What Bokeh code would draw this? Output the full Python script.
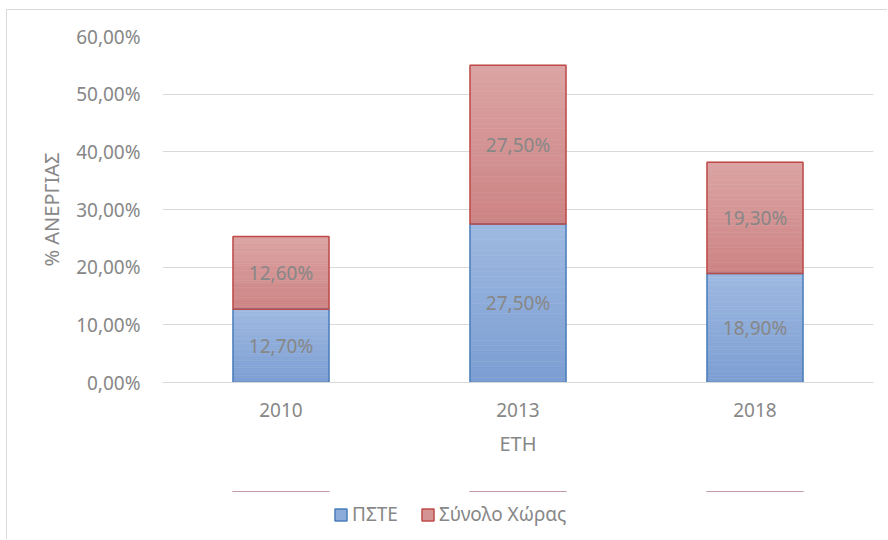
from bokeh.plotting import figure
from bokeh.layouts import column
from bokeh.models import (ColumnDataSource, FactorRange, FixedTicker, CustomJSTickFormatter,
                          Legend, LegendItem, Range1d, BoxAnnotation)
from bokeh.core.properties import value
from bokeh.embed import file_html
from bokeh.resources import INLINE

years = ["2010", "2013", "2018"]
pste = [12.70, 27.50, 18.90]
synolo = [12.60, 27.50, 19.30]
series_names = ["ΠΣΤΕ", "Σύνολο Χώρας"]
y_ticks = [0, 10, 20, 30, 40, 50, 60]

FONT = "Noto Sans"
TXT = "#878787"
BAR_W = 0.405

blue_top, blue_bot, blue_line = (0x9e, 0xb9, 0xe1), (0x7c, 0x9e, 0xd2), "#4a7ebb"
red_top, red_bot, red_line = (0xdb, 0xa4, 0xa4), (0xcd, 0x83, 0x83), "#be4b48"


def hexc(c):
    return "#%02x%02x%02x" % tuple(int(round(v)) for v in c)


def mix(a, b, t):
    return tuple(a[i] + (b[i] - a[i]) * t for i in range(3))


p = figure(frame_width=711, frame_height=346, x_range=FactorRange(*years, range_padding=0),
           y_range=Range1d(0, 60), output_backend="svg", toolbar_location=None,
           min_border_left=155, min_border_right=14, min_border_top=26, min_border_bottom=109)
p.outline_line_color = None
p.background_fill_color = "white"

bottoms = [0.0] * len(years)
tops1 = [pste[i] for i in range(len(years))]
tops2 = [pste[i] + synolo[i] for i in range(len(years))]

src1 = ColumnDataSource(dict(x=years, bottom=bottoms, top=tops1))
src2 = ColumnDataSource(dict(x=years, bottom=tops1, top=tops2))

# gradient slices derived from the data
N = 30
for lo_arr, hi_arr, cb, ct in [(bottoms, tops1, blue_bot, blue_top), (tops1, tops2, red_bot, red_top)]:
    xs, bs, ts, cs = [], [], [], []
    for i in range(len(years)):
        lo, hi = lo_arr[i], hi_arr[i]
        for k in range(N):
            xs.append(years[i])
            bs.append(lo + (hi - lo) * k / N)
            ts.append(lo + (hi - lo) * (k + 1) / N)
            cs.append(hexc(mix(cb, ct, (k + 0.5) / N)))
    p.vbar(x=xs, bottom=bs, top=ts, width=BAR_W, fill_color=cs, line_color=cs, line_width=0.6)

# outlines on top
p.vbar(x="x", bottom="bottom", top="top", width=BAR_W, source=src1,
       fill_color=None, line_color=blue_line, line_width=1.5)
p.vbar(x="x", bottom="bottom", top="top", width=BAR_W, source=src2,
       fill_color=None, line_color=red_line, line_width=1.5)

# data labels
lab = ColumnDataSource(dict(
    x=years + years,
    y=[(bottoms[i] + tops1[i]) / 2 for i in range(3)] + [(tops1[i] + tops2[i]) / 2 for i in range(3)],
    t=[("%.2f%%" % v).replace(".", ",") for v in pste + synolo]))
p.text(x="x", y="y", text="t", source=lab, text_align="center", text_baseline="middle",
       text_font=value(FONT), text_font_size="19px", text_color=TXT)

# axes
p.xgrid.grid_line_color = None
p.ygrid.grid_line_color = "#d9d9d9"
p.ygrid.ticker = FixedTicker(ticks=y_ticks)
p.yaxis.ticker = FixedTicker(ticks=y_ticks)
p.yaxis.formatter = CustomJSTickFormatter(code="return tick.toFixed(2).replace('.', ',') + '%';")
for ax in (p.xaxis[0], p.yaxis[0]):
    ax.major_tick_line_color = None
    ax.minor_tick_line_color = None
    ax.major_label_text_font = FONT
    ax.major_label_text_font_size = "19px"
    ax.major_label_text_color = TXT
    ax.axis_label_text_font = FONT
    ax.axis_label_text_font_size = "20px"
    ax.axis_label_text_color = TXT
    ax.axis_label_text_font_style = "normal"
p.yaxis.axis_line_color = None
p.xaxis.axis_line_color = "#d9d9d9"
p.yaxis.axis_label = "% ΑΝΕΡΓΙΑΣ"
p.xaxis.axis_label = "ΕΤΗ"
p.yaxis.major_label_standoff = 16
p.yaxis.axis_label_standoff = 8
p.xaxis.major_label_standoff = 14
p.xaxis.axis_label_standoff = 10

# legend strip (separate small figure below the chart; its bars are covered by a white box)
lg = figure(frame_width=711, frame_height=48, x_range=FactorRange(*years, range_padding=0),
            y_range=Range1d(-2, -1), output_backend="svg", toolbar_location=None,
            min_border_left=155, min_border_right=14, min_border_top=0, min_border_bottom=0)
lg.axis.visible = False
lg.grid.visible = False
lg.outline_line_color = None
e1 = lg.vbar(x="x", bottom="bottom", top="top", width=BAR_W, source=src1,
             fill_color=hexc(mix(blue_bot, blue_top, 0.5)), line_color=blue_line, line_width=1.5)
e2 = lg.vbar(x="x", bottom="bottom", top="top", width=BAR_W, source=src2,
             fill_color=hexc(mix(red_bot, red_top, 0.5)), line_color=red_line, line_width=1.5)
cover = BoxAnnotation(fill_color="white", fill_alpha=1.0, line_color=None)
lg.add_layout(cover)
legend = Legend(items=[LegendItem(label=series_names[0], renderers=[e1]),
                       LegendItem(label=series_names[1], renderers=[e2])],
                orientation="horizontal", location=(171, 12), border_line_color=None,
                background_fill_alpha=0, label_text_font=FONT, label_text_font_size="19px",
                label_text_color=TXT, glyph_width=15, glyph_height=15, spacing=22,
                label_standoff=4, margin=0, padding=4)
lg.add_layout(legend, "center")

layout = column(p, lg, spacing=0)
layout.margin = (9, 0, 0, 6)
layout.styles = {"border-left": "1px solid #d9d9d9", "border-top": "1px solid #d9d9d9"}

open("out.html", "w").write(file_html(layout, INLINE))
